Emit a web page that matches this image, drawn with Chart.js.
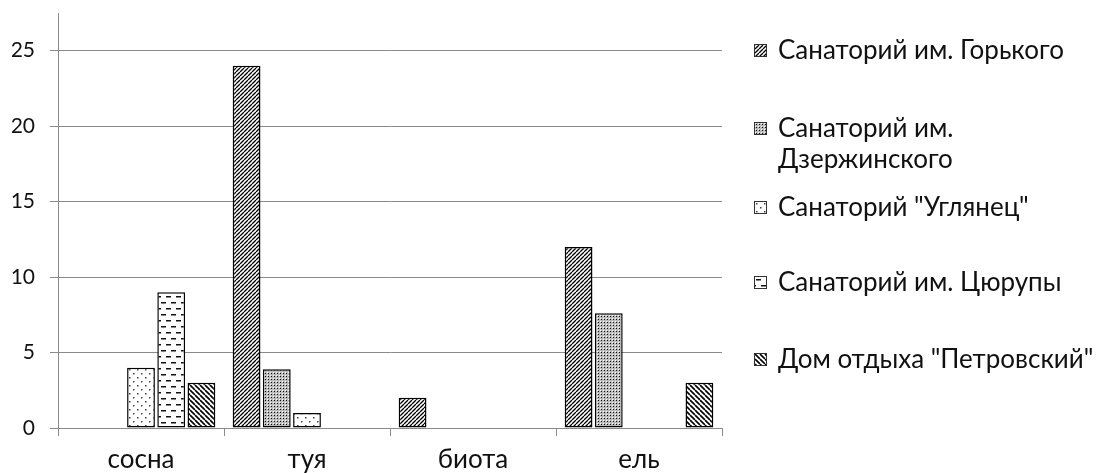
<!DOCTYPE html>
<html>
<head>
<meta charset="utf-8">
<script src="https://cdn.jsdelivr.net/npm/chart.js@4"></script>
<style>
  body { margin: 0; background: #fff; }
  #wrap { position: relative; width: 1098px; height: 473px; }
  #legend { position: absolute; left: 0; top: 0; font-family: Lato, sans-serif; font-size: 26px; color: #111; }
  .item { position: absolute; left: 754px; white-space: nowrap; }
  .item canvas { position: absolute; left: 0; border: 1px solid #333; box-sizing: border-box; }
  .item span { position: absolute; left: 24px; line-height: 32px; }
</style>
</head>
<body>
<div id="wrap">
  <canvas id="myChart" width="1098" height="473"></canvas>
  <div id="legend"></div>
</div>
<script>
const categories = ['сосна', 'туя', 'биота', 'ель'];
const seriesNames = [
  'Санаторий им. Горького',
  'Санаторий им. Дзержинского',
  'Санаторий "Углянец"',
  'Санаторий им. Цюрупы',
  'Дом отдыха "Петровский"'
];
const gorkogo = [null, 24, 2, 12];
const dzerzhinskogo = [null, 3.9, null, 7.6];
const uglyanets = [4, 1, null, null];
const tsyurupy = [9, null, null, null];
const petrovsky = [3, null, null, 3];
const yTicks = [0, 5, 10, 15, 20, 25];

// pattern tiles
function tile(w, h, draw) {
  const c = document.createElement('canvas');
  c.width = w; c.height = h;
  const g = c.getContext('2d');
  g.fillStyle = '#fff';
  g.fillRect(0, 0, w, h);
  draw(g, w, h);
  return c;
}
function diag(s, up, lw) {
  return tile(s, s, function(g) {
    g.strokeStyle = '#000';
    g.lineWidth = lw;
    g.beginPath();
    for (let k = -1; k <= 1; k++) {
      if (up) { g.moveTo(k * s, s); g.lineTo(k * s + s, 0); }
      else { g.moveTo(k * s, 0); g.lineTo(k * s + s, s); }
    }
    g.stroke();
  });
}
const tiles = [
  diag(4, true, 1.3),
  tile(3, 3, function(g) {
    g.fillStyle = '#bbb'; g.fillRect(0, 0, 3, 3);
    g.fillStyle = '#fff'; g.fillRect(0, 0, 1, 1);
    g.fillStyle = '#111'; g.fillRect(1, 1, 1, 1);
  }),
  tile(8, 8, function(g) {
    g.fillStyle = '#444';
    g.fillRect(1, 1, 1.5, 1.5);
    g.fillRect(5, 5, 1.5, 1.5);
  }),
  tile(10, 12, function(g) {
    g.fillStyle = '#111';
    g.fillRect(1, 2, 5, 1.5);
    g.fillRect(6, 8, 5, 1.5);
    g.fillRect(-4, 8, 5, 1.5);
  }),
  diag(5, false, 1.6)
];
const ctx0 = document.getElementById('myChart').getContext('2d');
const patterns = tiles.map(t => ctx0.createPattern(t, 'repeat'));

const values = [gorkogo, dzerzhinskogo, uglyanets, tsyurupy, petrovsky];
const gridColor = '#8a8a8a';

const myChart = new Chart(ctx0, {
  type: 'bar',
  data: {
    labels: categories,
    datasets: values.map((v, i) => ({
      label: seriesNames[i],
      data: v,
      backgroundColor: patterns[i],
      borderColor: '#000',
      borderWidth: 1.5,
      borderSkipped: false
    }))
  },
  options: {
    responsive: false,
    animation: false,
    devicePixelRatio: 1,
    categoryPercentage: 0.91,
    barPercentage: 0.92,
    layout: { padding: { left: 12, right: 376, top: 13, bottom: 0 } },
    plugins: { legend: { display: false }, tooltip: { enabled: false } },
    scales: {
      x: {
        grid: { drawOnChartArea: false, tickLength: 8, color: gridColor, offset: true },
        border: { color: gridColor },
        ticks: { font: { family: 'Lato', size: 26 }, color: '#111', padding: 8 },
        afterFit: a => { a.height = 45; a.paddingLeft = 0; a.paddingRight = 0; }
      },
      y: {
        min: 0,
        max: 27.5,
        afterBuildTicks: axis => { axis.ticks = yTicks.map(v => ({ value: v })); },
        grid: { tickLength: 8, color: gridColor },
        border: { color: gridColor },
        ticks: { font: { family: 'Lato', size: 21 }, color: '#111', padding: 15 },
        afterFit: a => { a.width = 46; a.paddingTop = 0; a.paddingBottom = 0; }
      }
    }
  }
});

// legend beside the chart
const legendTops = [33, 111, 190, 265, 342];
const legendLines = [
  [seriesNames[0]],
  ['Санаторий им.', 'Дзержинского'],
  [seriesNames[2]],
  [seriesNames[3]],
  [seriesNames[4]]
];
const legend = document.getElementById('legend');
legendLines.forEach((lines, i) => {
  const item = document.createElement('div');
  item.className = 'item';
  item.style.top = legendTops[i] + 'px';
  const sw = document.createElement('canvas');
  sw.width = 11; sw.height = 11;
  sw.style.top = '11px';
  const g = sw.getContext('2d');
  g.fillStyle = g.createPattern(tiles[i], 'repeat');
  g.fillRect(0, 0, 11, 11);
  item.appendChild(sw);
  lines.forEach((t, j) => {
    const s = document.createElement('span');
    s.textContent = t;
    s.style.top = (j * 31) + 'px';
    item.appendChild(s);
  });
  legend.appendChild(item);
});
</script>
</body>
</html>
